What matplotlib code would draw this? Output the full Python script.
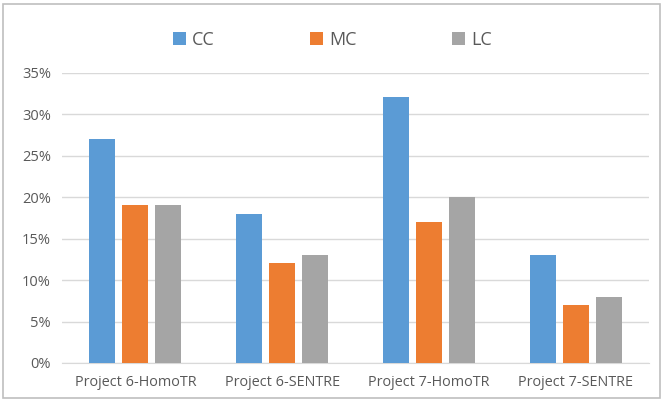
import matplotlib
matplotlib.use("Agg")
import matplotlib.pyplot as plt
import numpy as np
from matplotlib.patches import Rectangle
from matplotlib.ticker import FuncFormatter

categories = ["Project 6-HomoTR", "Project 6-SENTRE", "Project 7-HomoTR", "Project 7-SENTRE"]
series_names = ["CC", "MC", "LC"]
cc = [0.27, 0.18, 0.32, 0.13]
mc = [0.19, 0.12, 0.17, 0.07]
lc = [0.19, 0.13, 0.20, 0.08]
colors = ["#5B9BD5", "#ED7D31", "#A5A5A5"]

plt.rcParams['font.family'] = ['Open Sans', 'DejaVu Sans']

fig = plt.figure(figsize=(6.63, 4.0), dpi=100)
ax = fig.add_axes([0.0935, 0.0925, 0.8854, 0.726])

x = np.arange(len(categories))
w = 0.177
offs = [-0.225, 0, 0.225]
for vals, off, col, name in zip([cc, mc, lc], offs, colors, series_names):
    ax.bar(x + off, vals, width=w, color=col, label=name, zorder=3)

ax.set_ylim(0, 0.35)
ax.set_xlim(-0.5, len(categories) - 0.5)
ax.set_yticks(np.arange(0, 0.351, 0.05))
ax.yaxis.set_major_formatter(FuncFormatter(lambda v, p: f"{round(v*100)}%"))
ax.set_xticks(x)
ax.set_xticklabels(categories)
ax.grid(axis='y', color='#D9D9D9', linewidth=1, zorder=0)
for s in ['top', 'right', 'left']:
    ax.spines[s].set_visible(False)
ax.spines['bottom'].set_color('#D9D9D9')
ax.tick_params(axis='x', length=0, labelsize=10.4, colors='#595959', pad=9)
ax.tick_params(axis='y', length=0, labelsize=10.5, colors='#595959', pad=8)

fig.legend(loc='center', bbox_to_anchor=(0.5015, 0.901), ncol=3, frameon=False,
           fontsize=13, handlelength=0.72, handleheight=0.72, columnspacing=5.3,
           handletextpad=0.33, labelcolor='#595959')

fig.patches.append(Rectangle((0.005, 0.006), 0.991, 0.984, transform=fig.transFigure,
                             fill=False, edgecolor='#BFBFBF', linewidth=1.2))

fig.savefig("out.png", dpi=100)
